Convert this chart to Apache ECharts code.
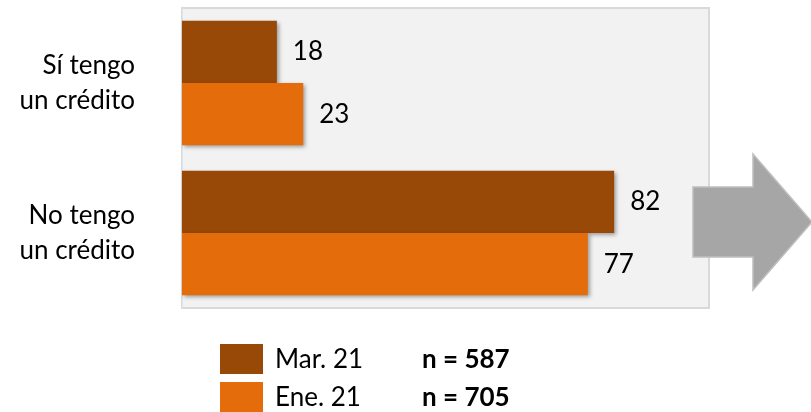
<!DOCTYPE html>
<html>
<head>
<meta charset="utf-8">
<script src="https://cdn.jsdelivr.net/npm/echarts@6/dist/echarts.min.js"></script>
<style>
  html, body { margin: 0; padding: 0; background: #fff; }
  #chart { width: 811px; height: 412px; }
</style>
</head>
<body>
<div id="chart"></div>
<script>
const categories = ['Sí tengo\nun crédito', 'No tengo\nun crédito']
const seriesNames = ['Mar. 21', 'Ene. 21']
const sampleSizes = ['n = 587', 'n = 705']
const mar21 = [18, 82]
const ene21 = [23, 77]

const font = 'Lato'
const fs = 26
const barShadow = {
  shadowBlur: 4,
  shadowOffsetX: 2,
  shadowOffsetY: 2,
  shadowColor: 'rgba(0,0,0,0.35)'
}

function legendFor(i, top) {
  return {
    orient: 'vertical',
    left: 220,
    top: top,
    padding: 0,
    itemWidth: 43,
    itemHeight: 30,
    icon: 'rect',
    data: [seriesNames[i]],
    formatter(name) {
      return '{a|' + name + '}{b|' + sampleSizes[i] + '}'
    },
    textStyle: {
      color: '#000',
      fontFamily: font,
      rich: {
        a: { fontSize: fs, width: 147, fontFamily: font, color: '#000', padding: [2, 0, 0, 7] },
        b: { fontSize: fs, fontWeight: 'bold', fontFamily: font, color: '#000', padding: [2, 0, 0, 0] }
      }
    }
  }
}

const chart = echarts.init(document.getElementById('chart'))

chart.setOption({
  backgroundColor: '#ffffff',
  animation: false,
  textStyle: { fontFamily: font },
  grid: {
    left: 182,
    right: 102,
    top: 8,
    bottom: 104,
    show: true,
    backgroundColor: '#f2f2f2',
    borderColor: '#d9d9d9',
    borderWidth: 2
  },
  xAxis: {
    type: 'value',
    min: 0,
    max: 100,
    show: false
  },
  yAxis: {
    type: 'category',
    inverse: true,
    data: categories,
    axisLine: { lineStyle: { color: '#dce6f2', width: 1 } },
    axisTick: { show: false },
    axisLabel: {
      margin: 47,
      fontSize: fs,
      lineHeight: 35,
      color: '#000',
      align: 'right',
      fontFamily: font
    }
  },
  legend: [legendFor(0, 344), legendFor(1, 382)],
  series: [
    {
      name: seriesNames[0],
      type: 'bar',
      data: mar21,
      barGap: '0%',
      barCategoryGap: '17%',
      itemStyle: Object.assign({ color: '#984807' }, barShadow),
      label: {
        show: true,
        position: 'right',
        distance: 16,
        fontSize: fs,
        color: '#000',
        fontFamily: font
      }
    },
    {
      name: seriesNames[1],
      type: 'bar',
      data: ene21,
      barGap: '0%',
      barCategoryGap: '17%',
      itemStyle: Object.assign({ color: '#e46c0a' }, barShadow),
      label: {
        show: true,
        position: 'right',
        distance: 16,
        fontSize: fs,
        color: '#000',
        fontFamily: font
      }
    }
  ],
  graphic: [
    {
      type: 'polygon',
      z: 100,
      shape: {
        points: [[693, 187], [753, 187], [753, 154], [812, 222], [753, 290], [753, 257], [693, 257]]
      },
      style: { fill: '#a6a6a6', stroke: '#bfbfbf', lineWidth: 1.5 }
    }
  ]
})
</script>
</body>
</html>
